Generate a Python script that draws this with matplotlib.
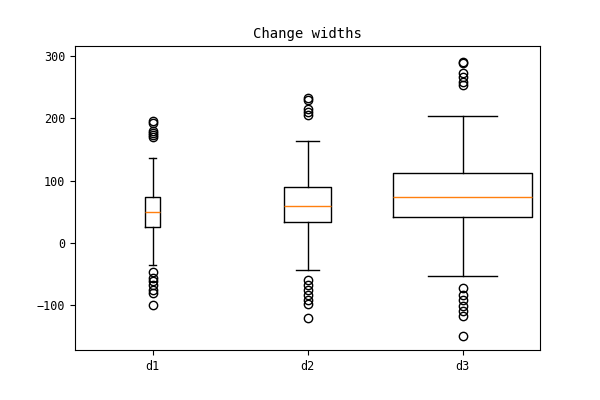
import matplotlib
matplotlib.use('Agg')
import matplotlib.pyplot as plt

# Шрифт, похожий на оригинал (узкий моноширинный)
plt.rcParams['font.family'] = ['DejaVu Sans Mono']

# Данные
labels = ['d1', 'd2', 'd3']
medians = [49, 59, 74]
q1s = [26, 33, 41]
q3s = [74, 89, 112]
whis_lo = [-35, -44, -53]
whis_hi = [136, 163, 204]
fliers = [
    [195, 192, 180, 177, 173, 170, -47, -56, -62, -68, -75, -81, -99],
    [233, 230, 215, 210, 205, -59, -67, -75, -84, -92, -98, -121],
    [291, 288, 272, 266, 259, 254, -73, -84, -92, -101, -109, -118, -149],
]
widths = [0.1, 0.3, 0.9]

stats = []
for i in range(len(labels)):
    stats.append({
        'label': labels[i],
        'med': medians[i],
        'q1': q1s[i],
        'q3': q3s[i],
        'whislo': whis_lo[i],
        'whishi': whis_hi[i],
        'fliers': fliers[i],
    })

fig, ax = plt.subplots(figsize=(6, 4), dpi=100)
fig.subplots_adjust(left=0.125, right=0.9, top=0.885, bottom=0.125)
ax.bxp(stats, widths=widths)
ax.set_title('Change widths', fontsize=10)
ax.tick_params(labelsize=8.5)
ax.set_yticks([-100, 0, 100, 200, 300])
ax.set_ylim(-172, 316)

plt.savefig('out.png')
plt.close()
